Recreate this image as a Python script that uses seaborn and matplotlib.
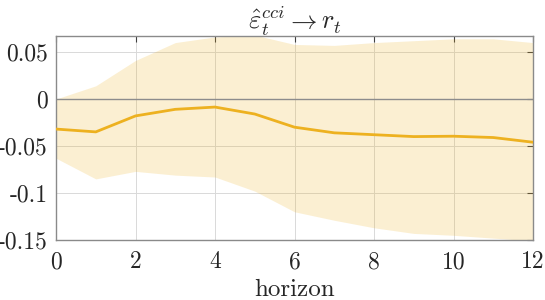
import numpy as np
import pandas as pd
import matplotlib
matplotlib.use('Agg')
import matplotlib.pyplot as plt
import seaborn as sns
from matplotlib.ticker import FuncFormatter

# impulse response of r_t to the cci shock, with confidence band
horizon = [0, 1, 2, 3, 4, 5, 6, 7, 8, 9, 10, 11, 12]
irf = [-0.032, -0.035, -0.018, -0.011, -0.0086, -0.016, -0.030, -0.036,
       -0.038, -0.040, -0.0396, -0.041, -0.046]
upper = [0.000, 0.014, 0.041, 0.060, 0.066, 0.068, 0.058, 0.057,
         0.060, 0.062, 0.064, 0.064, 0.060]
lower = [-0.063, -0.085, -0.077, -0.081, -0.083, -0.098, -0.120, -0.129,
         -0.137, -0.143, -0.145, -0.148, -0.151]

df = pd.DataFrame({'horizon': horizon, 'irf': irf})

sns.set_style('white')
plt.rcParams['font.family'] = ['cmr10', 'DejaVu Serif']
plt.rcParams['mathtext.fontset'] = 'cm'
plt.rcParams['axes.unicode_minus'] = False

col = '#EDB120'

fig = plt.figure(figsize=(5.45, 3.0), dpi=100)
ax = fig.add_axes([0.1028, 0.2, 0.8752, 0.68])

ax.fill_between(horizon, lower, upper, color=col, alpha=0.2, linewidth=0, zorder=1)
ax.axhline(0, color='#8c8c8c', linewidth=1.0, zorder=2)
sns.lineplot(data=df, x='horizon', y='irf', color=col, linewidth=2.0, ax=ax, zorder=3)

ax.set_xlim(0, 12)
ax.set_ylim(-0.15, 0.067)
ax.set_xticks([0, 2, 4, 6, 8, 10, 12])
ax.set_yticks([-0.15, -0.1, -0.05, 0, 0.05])
ax.yaxis.set_major_formatter(FuncFormatter(lambda v, p: '%g' % round(v, 3)))

ax.grid(True, color='#d9d9d9', linewidth=0.7, zorder=0)
ax.set_axisbelow(True)
ax.tick_params(direction='in', top=True, right=True, length=4, width=0.8,
               color='#404040', labelsize=17)
ax.tick_params(axis='x', pad=8)
ax.tick_params(axis='y', pad=6)
for s in ax.spines.values():
    s.set_color('#8a8a8a')
    s.set_linewidth(1.0)

ax.set_xlabel('horizon', fontsize=18, labelpad=4)
ax.set_ylabel('')
ax.set_title(r'$\hat{\varepsilon}_t^{cci} \rightarrow r_t$', fontsize=19, pad=5)

fig.savefig('out.png', dpi=100)
